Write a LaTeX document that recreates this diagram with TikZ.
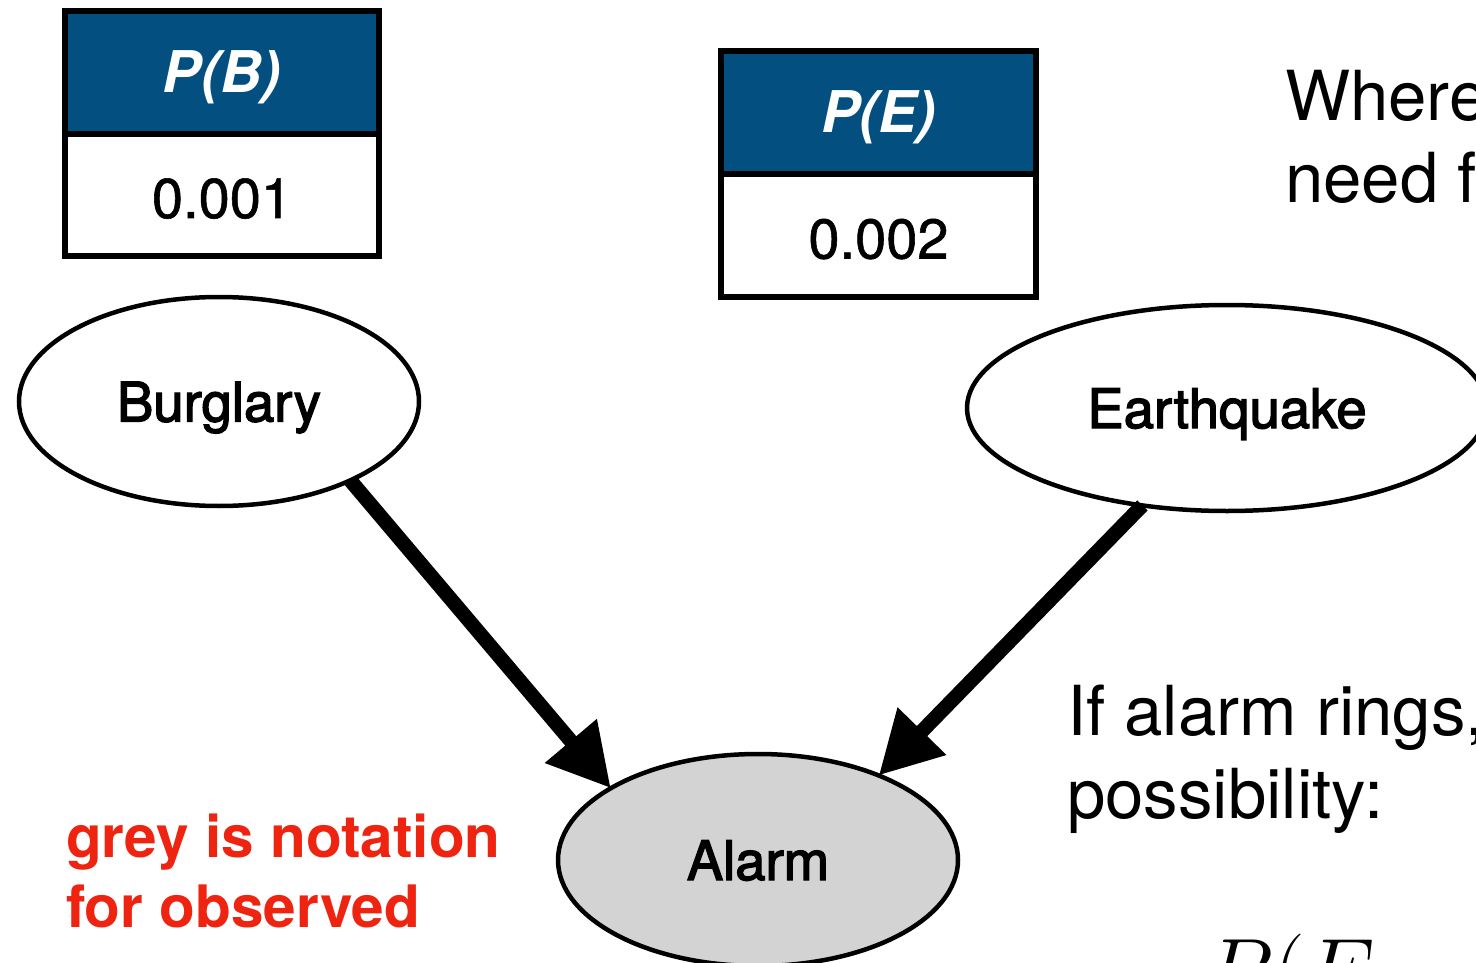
\RequirePackage{fix-cm}
\documentclass[tikz,border=0pt]{standalone}
\usepackage{fontspec}
\setmainfont{TeX Gyre Heros}
\newfontfamily\labelfont[FakeBold=2.5]{TeX Gyre Heros}
\newfontfamily\cellfont[FakeBold=1]{TeX Gyre Heros}
\usetikzlibrary{arrows.meta,shapes.geometric}

\definecolor{hdrblue}{RGB}{2,79,128}
\definecolor{obsgrey}{RGB}{211,211,211}
\definecolor{notered}{RGB}{238,35,16}

\begin{document}
\begin{tikzpicture}[x=1pt,y=-1pt,
  every node/.style={inner sep=0pt, outer sep=0pt},
  tblhead/.style={draw=black, line width=6pt, fill=hdrblue, text=white,
    font=\fontsize{57.5}{60}\selectfont\bfseries\itshape,
    text height=41pt, text depth=0pt},
  tblcell/.style={draw=black, line width=6pt, fill=white,
    font=\cellfont\fontsize{56}{60}\selectfont,
    text height=46pt, text depth=0pt},
  varnode/.style={ellipse, draw=black, line width=4.5pt, fill=white,
    font=\labelfont\fontsize{54.5}{60}\selectfont,
    text height=40pt, text depth=0pt},
  causal/.style={line width=14.5pt, -{Triangle[length=62pt,width=64pt]}},
  notetxt/.style={anchor=base west, text=notered,
    font=\fontsize{58.5}{69}\selectfont\bfseries},
  bodytxt/.style={anchor=base west, font=\fontsize{69}{83}\selectfont}]

\useasboundingbox (0,0) rectangle (1476,963);
\fill[white] (0,0) rectangle (1476,963);
\clip (0,0) rectangle (1476,963);

% prior tables
\node[tblcell, minimum width=314pt, minimum height=122pt] (pbval) at (222,195) {0.001};
\node[tblhead, minimum width=314pt, minimum height=123pt] (pbhead) at (222,72.5) {P(B)};
\node[tblcell, minimum width=315pt, minimum height=123pt] (peval) at (878.5,235.5) {0.002};
\node[tblhead, minimum width=315pt, minimum height=123pt] (pehead) at (878.5,112.5) {P(E)};

% network variables
\node[varnode, minimum width=400pt, minimum height=209pt] (burg) at (219,401.5) {Burglary};
\node[varnode, minimum width=520pt, minimum height=206pt] (quake) at (1227,408) {Earthquake};
\node[varnode, fill=obsgrey, minimum width=400pt, minimum height=212pt] (alarm) at (758,860) {Alarm};

% causal links
\draw[causal] (burg.-31.6) -- (alarm.154.5);
\draw[causal] (quake.229.5) -- (alarm.35.4);

% annotations
\node[notetxt] (note1) at (66,857) {grey is notation};
\node[notetxt] (note2) at (66,927) {for observed};

\node[bodytxt] (where) at (1285,121) {Where};
\node[bodytxt] (needf) at (1285,203) {need f};
\node[bodytxt] (rings) at (1067,735) {If alarm rings,};
\node[bodytxt] (possib) at (1067,818) {possibility:};
\node[anchor=base west, font=\fontsize{90}{100}\selectfont] (pe) at (1204,1001) {$P(E$};

\end{tikzpicture}
\end{document}
